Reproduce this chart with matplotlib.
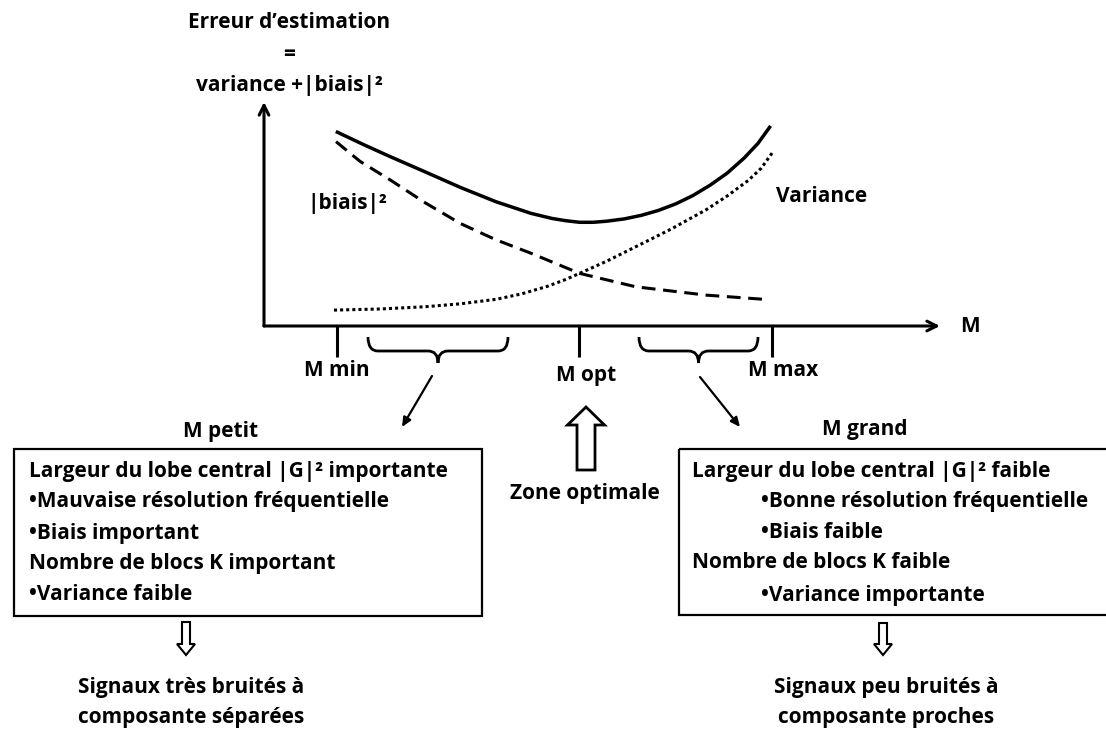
import matplotlib
matplotlib.use('Agg')  # no display

import matplotlib.pyplot as plt
from matplotlib.patches import Rectangle, Polygon, PathPatch
from matplotlib.path import Path

plt.rcParams['font.family'] = ['Open Sans', 'DejaVu Sans']
plt.rcParams['font.weight'] = 'bold'

# M in % of the axis length, error in % of the axis height
total_m = [10.7, 14.5, 18.4, 23.5, 28.6, 33.8, 38.9, 42.0, 44.0, 46.0, 48.0, 50.0, 52.5,
           55.0, 57.5, 60.0, 62.5, 65.0, 67.5, 70.0, 72.0, 73.7]
total_err = [86.5, 81.0, 75.6, 68.8, 61.9, 55.5, 50.3, 48.0, 47.0, 46.3, 46.3, 46.8, 47.8,
             49.4, 51.6, 54.5, 58.2, 62.8, 68.2, 75.0, 81.5, 88.7]
bias_m = [10.5, 14.0, 18.4, 23.5, 28.6, 33.8, 38.9, 46.0, 54.2, 64.4, 72.9]
bias_err = [82.3, 73.5, 65.2, 55.0, 45.8, 38.5, 32.5, 23.5, 17.5, 13.8, 11.9]
var_m = [10.2, 17.0, 23.5, 28.6, 33.8, 37.5, 41.4, 44.0, 46.0, 50.0, 54.2, 59.3, 64.4,
         67.5, 70.6, 72.5, 74.2]
var_err = [7.1, 7.6, 8.6, 9.9, 11.9, 14.3, 17.8, 20.8, 23.5, 29.0, 35.4, 43.2, 51.8,
           58.0, 65.0, 70.5, 77.8]

tick_m = [10.6, 45.9, 74.1]
tick_labels = ['M min', 'M opt', 'M max']

title_lines = ['Erreur d’estimation', '=', 'variance +|biais|²']
petit_lines = ['Largeur du lobe central |G|² importante',
               '•Mauvaise résolution fréquentielle',
               '•Biais important',
               'Nombre de blocs K important',
               '•Variance faible']
grand_lines = ['Largeur du lobe central |G|² faible',
               '•Bonne résolution fréquentielle',
               '•Biais faible',
               'Nombre de blocs K faible',
               '•Variance importante']
grand_indent = [False, True, True, False, True]
petit_result = ['Signaux très bruités à', 'composante séparées']
grand_result = ['Signaux peu bruités à', 'composante proches']

FS = 15

fig = plt.figure(figsize=(11.06, 7.30), dpi=100)
# pixel-space canvas for the annotations
ax = fig.add_axes([0, 0, 1, 1])
ax.set_xlim(0, 1106)
ax.set_ylim(730, 0)
ax.axis('off')

# the curve area (x axis runs out to 100 * 676 / 686)
x_end = 100 * 676 / 686
cax = fig.add_axes([264 / 1106, (730 - 326) / 730, 676 / 1106, 224 / 730])
cax.set_xlim(0, x_end)
cax.set_ylim(0, 100)
cax.axis('off')

axis_arrow = dict(arrowstyle='->,head_length=0.7,head_width=0.35', lw=2.2,
                  color='black', shrinkA=0, shrinkB=0)
cax.annotate('', xy=(x_end, 0), xytext=(0, 0), arrowprops=axis_arrow, annotation_clip=False)
cax.annotate('', xy=(0, 100), xytext=(0, 0), arrowprops=axis_arrow, annotation_clip=False)
cax.vlines(tick_m, -13.8, 0, colors='black', lw=2.2, clip_on=False)

cax.plot(total_m, total_err, color='black', lw=2.5, clip_on=False)
cax.plot(bias_m, bias_err, color='black', lw=2.2, ls=(0, (4.5, 2.5)), clip_on=False)
cax.plot(var_m, var_err, color='black', lw=2.2, ls=(0, (1, 1)), clip_on=False)

# title of the y axis
for txt, y in zip(title_lines, [22, 55, 85]):
    ax.text(289, y, txt, ha='center', va='center', fontsize=FS)

ax.text(347, 204, '|biais|²', ha='center', va='center', fontsize=FS)
ax.text(776, 197, 'Variance', ha='left', va='center', fontsize=FS)
ax.text(970, 327, 'M', ha='center', va='center', fontsize=FS)

label_dx = [0, 7, 11]
label_y = [370, 375, 370]
for m, lab, dx, y in zip(tick_m, tick_labels, label_dx, label_y):
    ax.text(264 + m * 6.86 + dx, y, lab, ha='center', va='center', fontsize=FS)


def brace(x0, x1, ytop, ybar, ytip, r=10):
    xm = (x0 + x1) / 2
    verts = [(x0, ytop), (x0, ybar), (x0 + r, ybar), (xm - r, ybar),
             (xm, ybar), (xm, ytip), (xm, ybar), (xm + r, ybar),
             (x1 - r, ybar), (x1, ybar), (x1, ytop)]
    codes = [Path.MOVETO, Path.CURVE3, Path.CURVE3, Path.LINETO,
             Path.CURVE3, Path.CURVE3, Path.CURVE3, Path.CURVE3,
             Path.LINETO, Path.CURVE3, Path.CURVE3]
    ax.add_patch(PathPatch(Path(verts, codes), fill=False, lw=2, ec='black'))


def hollow_arrow(xc, ytail, ytip, shaft_w, head_w, head_l, lw):
    d = 1 if ytip > ytail else -1
    yb = ytip - d * head_l
    pts = [(xc - shaft_w / 2, ytail), (xc - shaft_w / 2, yb), (xc - head_w / 2, yb),
           (xc, ytip), (xc + head_w / 2, yb), (xc + shaft_w / 2, yb),
           (xc + shaft_w / 2, ytail)]
    ax.add_patch(Polygon(pts, closed=True, fc='white', ec='black', lw=lw, joinstyle='miter'))


brace(368, 508, 337, 351, 363)
brace(639, 758, 337, 351, 363)

thin_arrow = dict(arrowstyle='-|>,head_length=0.55,head_width=0.25', lw=1.6,
                  color='black', shrinkA=0, shrinkB=0)
ax.annotate('', xy=(402, 427), xytext=(432, 376), arrowprops=thin_arrow)
ax.annotate('', xy=(740, 427), xytext=(700, 377), arrowprops=thin_arrow)

hollow_arrow(586, 470, 407, 18, 37, 18, 2)
ax.text(585, 493, 'Zone optimale', ha='center', va='center', fontsize=FS)

# M petit box
ax.text(221, 432, 'M petit', ha='center', va='center', fontsize=FS)
ax.add_patch(Rectangle((14, 449), 468, 167, fill=False, lw=1.6, ec='black'))
for txt, y in zip(petit_lines, [472, 502, 533, 564, 595]):
    ax.text(29, y, txt, ha='left', va='center', fontsize=FS)
hollow_arrow(186, 622, 655, 8, 18, 11, 1.5)
for txt, y in zip(petit_result, [687, 717]):
    ax.text(191, y, txt, ha='center', va='center', fontsize=FS)

# M grand box
ax.text(865, 430, 'M grand', ha='center', va='center', fontsize=FS)
ax.add_patch(Rectangle((679, 449), 440, 166, fill=False, lw=1.6, ec='black'))
for txt, y, ind in zip(grand_lines, [472, 502, 533, 563, 595], grand_indent):
    ax.text(761 if ind else 692, y, txt, ha='left', va='center', fontsize=FS)
hollow_arrow(883, 623, 655, 8, 18, 11, 1.5)
for txt, y in zip(grand_result, [687, 718]):
    ax.text(886, y, txt, ha='center', va='center', fontsize=FS)

fig.savefig('out.png', dpi=100)
plt.close(fig)
